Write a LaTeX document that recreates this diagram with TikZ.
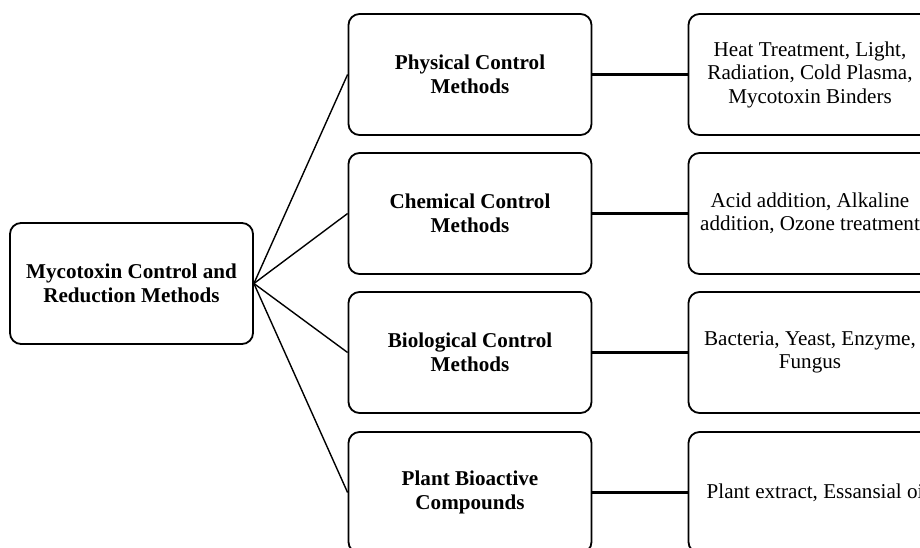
\documentclass[tikz,border=0pt]{standalone}
\usepackage{fontspec}
\setmainfont{Liberation Serif}
\begin{document}
\begin{tikzpicture}[x=1pt,y=-1pt,
  box/.style={draw, line width=1.8pt, rounded corners=11pt, fill=white,
    minimum width=243pt, minimum height=121pt, align=center, inner sep=0pt,
    font=\fontsize{21.1}{23.5}\selectfont},
  bbox/.style={box, font=\fontsize{21.1}{23.5}\selectfont\bfseries},
  diag/.style={line width=1.4pt},
  hline/.style={line width=2.6pt}]
\useasboundingbox (0,0) rectangle (920,547);
\clip (0,0) rectangle (920,547);

\node[bbox] (root) at (131.5,283.5) {Mycotoxin Control and\\Reduction Methods};

\node[bbox] (phys) at (470,74.5) {Physical Control\\Methods};
\node[bbox] (chem) at (470,213.5) {Chemical Control\\Methods};
\node[bbox] (bio)  at (470,352.5) {Biological Control\\Methods};
\node[bbox] (plant) at (470,492.5) {Plant Bioactive\\Compounds};

\node[box] (physr) at (810,74.5) {Heat Treatment, Light,\\Radiation, Cold Plasma,\\Mycotoxin Binders};
\node[box] (chemr) at (810,213.5) {Acid addition, Alkaline\\addition, Ozone treatment};
\node[box] (bior)  at (810,352.5) {Bacteria, Yeast, Enzyme,\\Fungus};
\node[box] (plantr) at (810,492.5) {\hspace*{16pt}Plant extract, Essansial oil};

\draw[diag] (root.east) -- (phys.west);
\draw[diag] (root.east) -- (chem.west);
\draw[diag] (root.east) -- (bio.west);
\draw[diag] (root.east) -- (plant.west);

\draw[hline] (phys.east) -- (physr.west);
\draw[hline] (chem.east) -- (chemr.west);
\draw[hline] (bio.east) -- (bior.west);
\draw[hline] (plant.east) -- (plantr.west);
\end{tikzpicture}
\end{document}
